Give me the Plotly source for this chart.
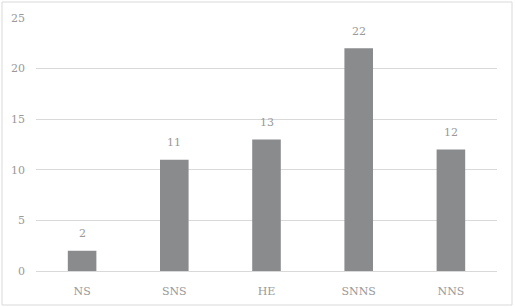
import plotly.graph_objects as go

categories = ["NS", "SNS", "HE", "SNNS", "NNS"]
values = [2, 11, 13, 22, 12]

W, H = 515, 307
ml, mr, mt, mb = 36, 18, 18, 36
pw, ph = W - ml - mr, H - mt - mb
txt = "#999999"
fam = "DejaVu Serif"

fig = go.Figure(go.Bar(
    x=categories, y=values,
    marker=dict(color="#8a8b8d", line=dict(width=0)),
    cliponaxis=False,
))

for c, v in zip(categories, values):
    fig.add_annotation(x=c, y=v, text=str(v), showarrow=False, yshift=17,
                       font=dict(color=txt, size=11, family=fam))

fig.update_layout(
    width=W, height=H,
    margin=dict(l=ml, r=mr, t=mt, b=mb, autoexpand=False),
    paper_bgcolor="white", plot_bgcolor="white",
    bargap=0.69,
    showlegend=False,
    font=dict(family=fam, size=11, color=txt),
    xaxis=dict(showgrid=False, showline=False, ticks="", ticklabelstandoff=12, automargin=False,
               tickfont=dict(size=11, color=txt, family=fam)),
    yaxis=dict(range=[0, 25], dtick=5, showgrid=True, gridcolor="#d9d9d9", gridwidth=1,
               zeroline=True, zerolinecolor="#d9d9d9", zerolinewidth=1, automargin=False,
               showline=False, ticks="", ticklabelstandoff=10,
               tickfont=dict(size=11, color=txt, family=fam)),
)

# outer chart border
x0 = (2 - ml) / pw
x1 = (512 - ml) / pw
y0 = 1 - (305 - mt) / ph
y1 = 1 - (2 - mt) / ph
fig.add_shape(type="rect", xref="paper", yref="paper", x0=x0, x1=x1, y0=y0, y1=y1,
              line=dict(color="#d9d9d9", width=1), fillcolor="rgba(0,0,0,0)", layer="below")

fig.write_html("out.html")
